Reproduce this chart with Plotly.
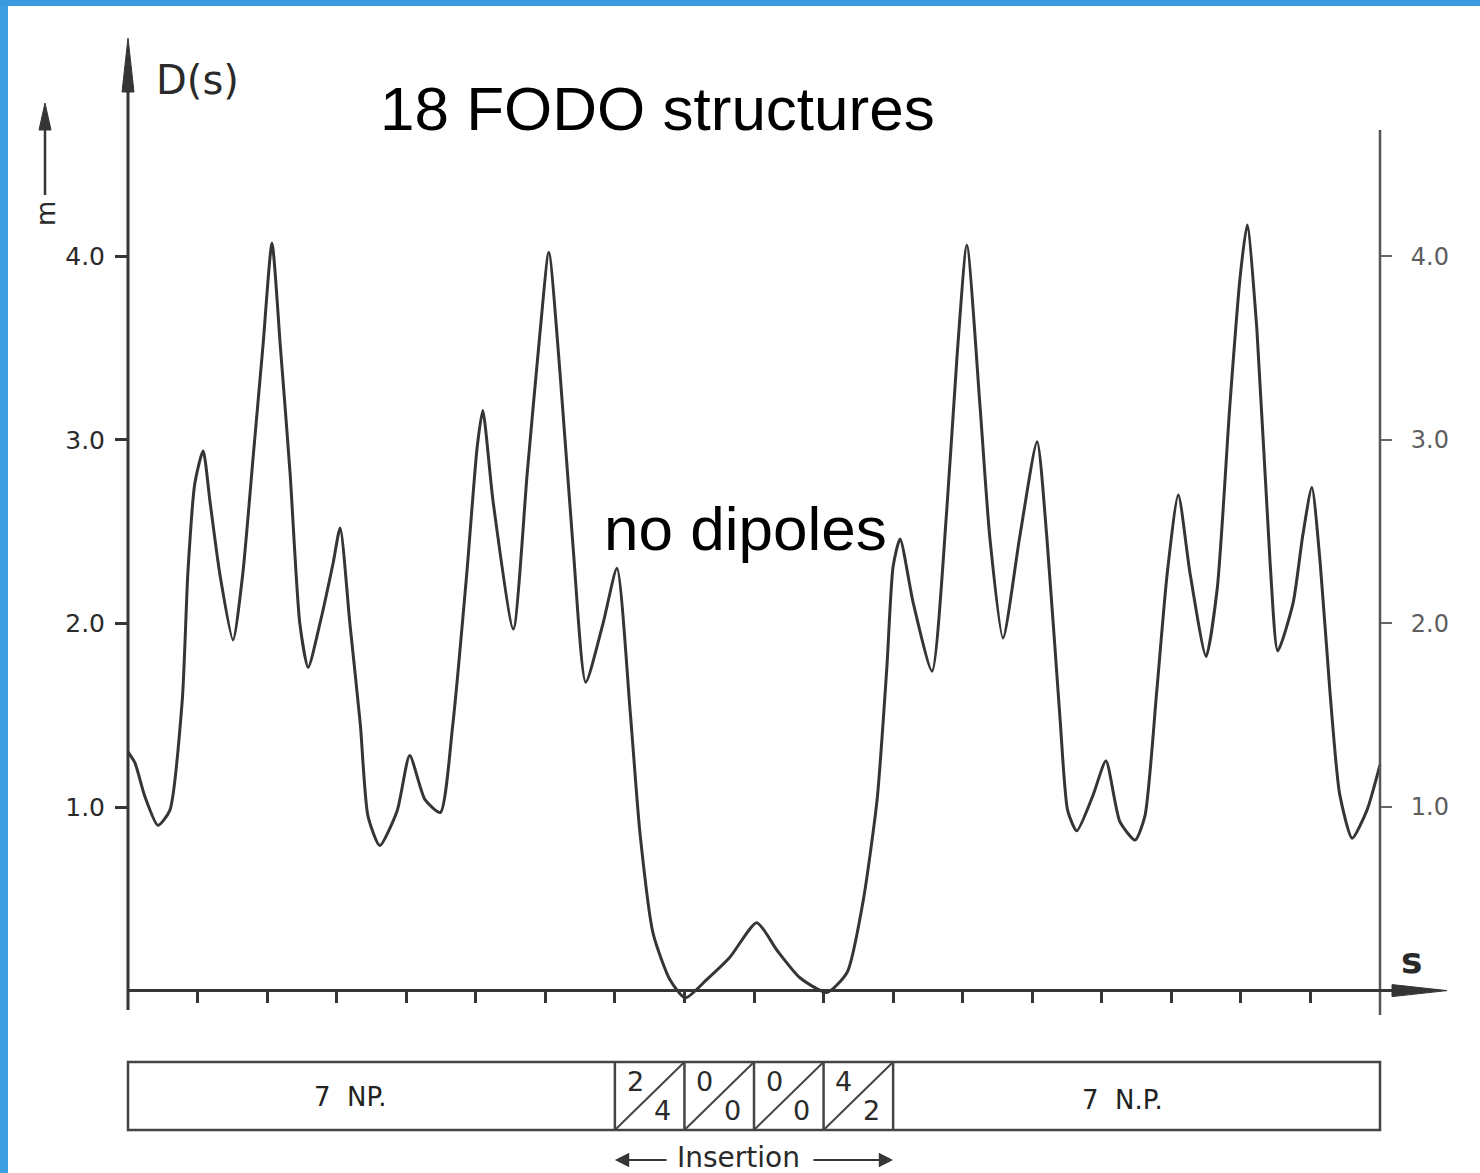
import plotly.graph_objects as go

# ---- data (s in FODO-cell units, D in m) ----
s_pos = [0.00, 0.10, 0.24, 0.43, 0.60, 0.78, 0.86, 0.96, 1.08, 1.18, 1.32, 1.51, 1.65, 1.80, 1.94,
         2.07, 2.19, 2.33, 2.47, 2.59, 2.76, 2.95, 3.05, 3.19, 3.34, 3.45, 3.62, 3.87, 4.05, 4.27,
         4.49, 4.67, 4.87, 5.02, 5.10, 5.25, 5.54, 5.74, 5.92, 6.05, 6.21, 6.40, 6.58, 6.83, 7.03,
         7.22, 7.36, 7.55, 7.79, 8.01, 8.32, 8.65, 9.04, 9.33, 9.66, 10.05, 10.34, 10.57, 10.77,
         10.91, 11.00, 11.10, 11.29, 11.56, 11.77, 11.92, 12.06, 12.25, 12.39, 12.58, 12.82, 13.07,
         13.21, 13.40, 13.51, 13.64, 13.87, 14.06, 14.26, 14.48, 14.62, 14.79, 14.94, 15.10, 15.27,
         15.50, 15.66, 15.84, 15.99, 16.09, 16.23, 16.42, 16.53, 16.75, 16.89, 17.02, 17.14, 17.28,
         17.42, 17.60, 17.81, 18.00]
dispersion = [1.30, 1.24, 1.06, 0.90, 0.98, 1.58, 2.27, 2.76, 2.94, 2.66, 2.27, 1.91, 2.27, 2.91, 3.51,
              4.07, 3.51, 2.82, 2.00, 1.76, 2.00, 2.33, 2.52, 2.00, 1.45, 0.95, 0.79, 0.98, 1.28, 1.04,
              0.97, 1.45, 2.27, 2.96, 3.16, 2.66, 1.97, 2.82, 3.57, 4.02, 3.37, 2.41, 1.68, 2.00, 2.30,
              1.52, 0.86, 0.31, 0.06, -0.04, 0.06, 0.18, 0.37, 0.22, 0.07, -0.01, 0.10, 0.49, 1.04,
              1.76, 2.31, 2.46, 2.11, 1.74, 2.61, 3.46, 4.06, 3.18, 2.47, 1.92, 2.47, 2.99,
              2.47, 1.48, 0.98, 0.87, 1.06, 1.25, 0.92, 0.82, 0.95, 1.63, 2.27, 2.70, 2.27,
              1.82, 2.19, 3.18, 3.89, 4.17, 3.60, 2.33, 1.85, 2.11, 2.48, 2.74, 2.33, 1.63,
              1.07, 0.83, 0.98, 1.23]

y_ticks = [1.0, 2.0, 3.0, 4.0]
cell_ticks = list(range(1, 18))
n_cells = 18
insertion_cells = [7, 8, 9, 10]
insertion_top = ["2", "0", "0", "4"]
insertion_bottom = ["4", "0", "0", "2"]

# ---- geometry helpers (pixel <-> data) ----
W, H = 1480, 1173
X0_PX, CELL_PX = 128.0, 1252.0 / 18
Y0_PX, UNIT_PX = 990.6, 183.6


def ux(px):
    return (px - X0_PX) / CELL_PX


def vy(py):
    return (Y0_PX - py) / UNIT_PX


xr = [ux(0), ux(W)]
yr = [vy(H), vy(0)]

INK = "#353535"
TXT = "#2a2a2a"
fig = go.Figure()
fig.add_trace(go.Scatter(x=s_pos, y=dispersion, mode="lines",
                         line=dict(color=INK, width=3, shape="spline", smoothing=0.6),
                         hoverinfo="skip", showlegend=False))
fig.add_trace(go.Scatter(x=[0], y=[0], yaxis="y2", mode="markers",
                         marker=dict(opacity=0), hoverinfo="skip", showlegend=False))

shapes = []
# blue slide frame
shapes.append(dict(type="rect", xref="paper", yref="paper", x0=0, x1=8 / W, y0=0, y1=1,
                   fillcolor="#3f9fe0", line=dict(width=0), layer="above"))
shapes.append(dict(type="rect", xref="paper", yref="paper", x0=0, x1=1, y0=1 - 6 / H, y1=1,
                   fillcolor="#3a99dd", line=dict(width=0), layer="above"))

# left axis with arrow
shapes.append(dict(type="line", x0=0, x1=0, y0=vy(1010), y1=vy(80), line=dict(color=INK, width=3)))
hw = 6 / CELL_PX
shapes.append(dict(type="path",
                   path=f"M {-hw} {vy(92)} L 0 {vy(38)} L {hw} {vy(92)} Z",
                   fillcolor=INK, line=dict(color=INK, width=1)))
# right axis
shapes.append(dict(type="line", x0=n_cells, x1=n_cells, y0=vy(1015), y1=vy(130),
                   line=dict(color="#555555", width=2.5)))
# baseline with arrow
shapes.append(dict(type="line", x0=0, x1=ux(1400), y0=0, y1=0, line=dict(color=INK, width=3)))
hh = 6 / UNIT_PX
shapes.append(dict(type="path",
                   path=f"M {ux(1392)} {hh} L {ux(1447)} 0 L {ux(1392)} {-hh} Z",
                   fillcolor=INK, line=dict(color=INK, width=1)))
# small unit arrow
shapes.append(dict(type="line", x0=ux(45), x1=ux(45), y0=vy(195), y1=vy(125),
                   line=dict(color=INK, width=2.5)))
hw2 = 6 / CELL_PX
shapes.append(dict(type="path",
                   path=f"M {ux(45) - hw2} {vy(130)} L {ux(45)} {vy(103)} L {ux(45) + hw2} {vy(130)} Z",
                   fillcolor=INK, line=dict(color=INK, width=1)))

# lattice box
yb, yt = vy(1130), vy(1062)
shapes.append(dict(type="rect", x0=0, x1=n_cells, y0=yb, y1=yt, line=dict(color="#444444", width=2.5)))
for k in insertion_cells + [insertion_cells[-1] + 1]:
    shapes.append(dict(type="line", x0=k, x1=k, y0=yb, y1=yt, line=dict(color="#444444", width=2.5)))
for k in insertion_cells:
    shapes.append(dict(type="line", x0=k, x1=k + 1, y0=yb, y1=yt, line=dict(color="#444444", width=2)))

ann = []
for k, t, b in zip(insertion_cells, insertion_top, insertion_bottom):
    ann.append(dict(x=k + 0.29, y=vy(1081), text=t, showarrow=False,
                    font=dict(family="DejaVu Sans", size=27, color=TXT)))
    ann.append(dict(x=k + 0.69, y=vy(1110), text=b, showarrow=False,
                    font=dict(family="DejaVu Sans", size=27, color=TXT)))
ann.append(dict(x=ux(350), y=vy(1097), text="7  NP.", showarrow=False,
                font=dict(family="DejaVu Sans", size=26, color="#222222")))
ann.append(dict(x=ux(1122), y=vy(1100), text="7  N.P.", showarrow=False,
                font=dict(family="DejaVu Sans", size=26, color="#222222")))
ann.append(dict(x=ux(738), y=vy(1157), text="Insertion", showarrow=False,
                font=dict(family="DejaVu Sans", size=28, color=TXT)))
# insertion arrows
ann.append(dict(x=7, y=vy(1160), ax=ux(668), ay=vy(1160), xref="x", yref="y", axref="x", ayref="y",
                text="", showarrow=True, arrowhead=2, arrowsize=1.3, arrowwidth=2.2, arrowcolor=INK))
ann.append(dict(x=11, y=vy(1160), ax=ux(812), ay=vy(1160), xref="x", yref="y", axref="x", ayref="y",
                text="", showarrow=True, arrowhead=2, arrowsize=1.3, arrowwidth=2.2, arrowcolor=INK))

ann.append(dict(x=ux(197), y=vy(80), text="D(s)", showarrow=False,
                font=dict(family="DejaVu Sans", size=40, color=TXT)))
ann.append(dict(x=ux(1411), y=vy(960), text="<b>s</b>", showarrow=False,
                font=dict(family="DejaVu Sans", size=36, color=TXT)))
ann.append(dict(x=ux(46), y=vy(214), text="m", showarrow=False, textangle=-90,
                font=dict(family="DejaVu Sans", size=26, color=TXT)))
ann.append(dict(x=ux(657), y=vy(108), text="18 FODO structures", showarrow=False,
                font=dict(family="Liberation Sans", size=62, color="#000000")))
ann.append(dict(x=ux(745), y=vy(528), text="no dipoles", showarrow=False,
                font=dict(family="Liberation Sans", size=62, color="#000000")))

fig.update_layout(
    width=W, height=H,
    margin=dict(l=0, r=0, t=0, b=0, pad=0),
    paper_bgcolor="white", plot_bgcolor="white",
    showlegend=False,
    xaxis=dict(range=xr, showgrid=False, zeroline=False, showline=False,
               tickvals=cell_ticks, ticks="outside", ticklen=11, tickwidth=2.5,
               tickcolor=INK, showticklabels=False, anchor="free",
               position=(H - Y0_PX) / H, fixedrange=True),
    yaxis=dict(range=yr, showgrid=False, zeroline=False, showline=False,
               tickvals=y_ticks, tickformat=".1f", ticks="outside", ticklen=13,
               tickwidth=2.5, tickcolor=INK, anchor="free", position=X0_PX / W,
               tickfont=dict(family="DejaVu Sans", size=25, color=TXT),
               ticklabelstandoff=5, fixedrange=True),
    yaxis2=dict(range=yr, overlaying="y", side="right", showgrid=False, zeroline=False,
                showline=False, tickvals=y_ticks, tickformat=".1f", ticks="outside",
                ticklen=11, tickwidth=2, tickcolor="#666666", anchor="free",
                position=(X0_PX + n_cells * CELL_PX) / W,
                tickfont=dict(family="DejaVu Sans", size=24, color="#5e5e5e"),
                ticklabelstandoff=14, fixedrange=True),
    shapes=shapes,
    annotations=ann,
)

fig.write_html("out.html", config={"displayModeBar": False},
               post_script="document.body.style.margin='0';document.body.style.overflow='hidden';")
